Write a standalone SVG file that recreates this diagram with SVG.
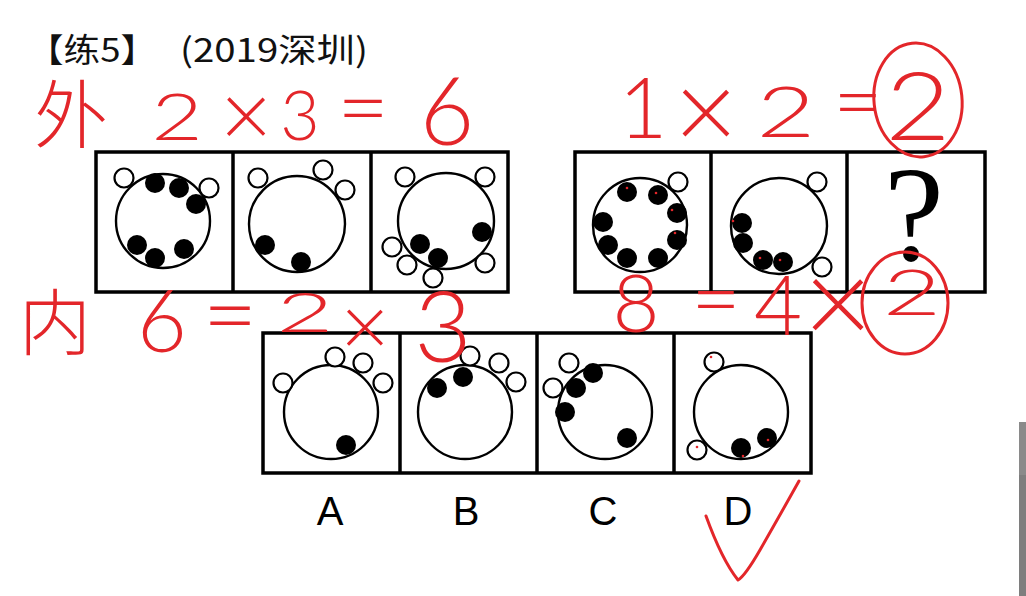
<svg xmlns="http://www.w3.org/2000/svg" width="1026" height="596" viewBox="0 0 1026 596">
<style>
.box{fill:#fff;stroke:#000;stroke-width:3.5}
.div{stroke:#000;stroke-width:3.5}
.big{fill:none;stroke:#000;stroke-width:2.4}
.o{fill:#fff;stroke:#000;stroke-width:2.2}
.f{fill:#000}
.rd{fill:#e3262a}
.title{font-family:"Noto Sans CJK SC","Noto Sans",sans-serif;font-size:33px;fill:#111}
.hw{fill:#e3262a;font-family:Lato,"Liberation Sans","Noto Sans CJK SC",sans-serif;font-weight:300;text-anchor:middle}
.cj{fill:#e3262a;font-family:"Noto Sans CJK SC",sans-serif;font-weight:300;text-anchor:middle}
.rs{fill:none;stroke:#e3262a;stroke-width:3;stroke-linecap:round;stroke-linejoin:round}
.lbl{font-family:"Liberation Sans",Arial,sans-serif;font-size:40px;fill:#000;text-anchor:middle}
</style>
<rect width="1026" height="596" fill="#fff"/>
<rect x="1019" y="422" width="7" height="174" fill="#7e7e7e"/>
<rect x="1019" y="422" width="7" height="53" fill="#8a8a8a"/>

<g id="title">
<text class="title" x="27" y="62" textLength="130" lengthAdjust="spacingAndGlyphs">【练5】</text>
<text class="title" x="180" y="62" textLength="188" lengthAdjust="spacingAndGlyphs">(2019深圳)</text>
</g>

<!-- top left row -->
<g id="row1">
<rect class="box" x="96" y="152" width="412" height="140"/>
<line class="div" x1="233" y1="152" x2="233" y2="292"/>
<line class="div" x1="371" y1="152" x2="371" y2="292"/>
</g>
<g id="p1">
<circle class="big" cx="163" cy="221" r="47"/>
<circle class="o" cx="124" cy="178" r="9.5"/>
<circle class="o" cx="209" cy="188" r="9.5"/>
<circle class="f" cx="155" cy="183" r="10"/>
<circle class="f" cx="179" cy="188" r="10"/>
<circle class="f" cx="196" cy="204" r="10"/>
<circle class="f" cx="137" cy="245" r="10"/>
<circle class="f" cx="155" cy="258" r="10"/>
<circle class="f" cx="184" cy="249" r="10"/>
</g>
<g id="p2">
<circle class="big" cx="297" cy="224" r="48"/>
<circle class="o" cx="258" cy="178" r="9.5"/>
<circle class="o" cx="323" cy="170" r="9.5"/>
<circle class="o" cx="345" cy="190" r="9.5"/>
<circle class="f" cx="265" cy="245" r="10"/>
<circle class="f" cx="301" cy="262" r="10"/>
</g>
<g id="p3">
<circle class="big" cx="446" cy="221" r="48"/>
<circle class="o" cx="405" cy="177" r="9.5"/>
<circle class="o" cx="485" cy="177" r="9.5"/>
<circle class="o" cx="392" cy="247" r="9.5"/>
<circle class="o" cx="407" cy="265" r="9.5"/>
<circle class="o" cx="433" cy="278" r="9.5"/>
<circle class="o" cx="485" cy="263" r="9.5"/>
<circle class="f" cx="420" cy="244" r="10"/>
<circle class="f" cx="438" cy="258" r="10"/>
<circle class="f" cx="482" cy="232" r="10"/>
</g>

<!-- top right row -->
<g id="row2">
<rect class="box" x="575" y="152" width="410" height="140"/>
<line class="div" x1="711" y1="152" x2="711" y2="292"/>
<line class="div" x1="847" y1="152" x2="847" y2="292"/>
</g>
<g id="p4">
<circle class="big" cx="640" cy="225" r="47"/>
<circle class="o" cx="678" cy="182" r="9.5"/>
<circle class="f" cx="627" cy="192" r="10"/>
<circle class="f" cx="658" cy="195" r="10"/>
<circle class="f" cx="677" cy="213" r="10"/>
<circle class="f" cx="677" cy="240" r="10"/>
<circle class="f" cx="658" cy="258" r="10"/>
<circle class="f" cx="627" cy="258" r="10"/>
<circle class="f" cx="608" cy="245" r="10"/>
<circle class="f" cx="603" cy="222" r="10"/>
<circle class="rd" cx="627" cy="188" r="1.3"/>
<circle class="rd" cx="656" cy="193" r="1.3"/>
<circle class="rd" cx="672" cy="210" r="1.3"/>
<circle class="rd" cx="675" cy="233" r="1.3"/>
</g>
<g id="p5">
<circle class="big" cx="779" cy="226" r="48"/>
<circle class="o" cx="817" cy="182" r="9.5"/>
<circle class="o" cx="822" cy="267" r="9.5"/>
<circle class="f" cx="742" cy="223" r="10"/>
<circle class="f" cx="743" cy="243" r="10"/>
<circle class="f" cx="763" cy="260" r="10"/>
<circle class="f" cx="783" cy="262" r="10"/>
<circle class="rd" cx="733" cy="221" r="1.3"/>
<circle class="rd" cx="760" cy="258" r="1.3"/>
<circle class="rd" cx="780" cy="260" r="1.3"/>
</g>
<g id="p6">
<text x="914" y="260" font-family="Liberation Serif,serif" font-size="135" text-anchor="middle" fill="#000">?</text>
</g>

<!-- options -->
<g id="row3">
<rect class="box" x="263" y="333" width="548" height="140"/>
<line class="div" x1="400" y1="333" x2="400" y2="473"/>
<line class="div" x1="537" y1="333" x2="537" y2="473"/>
<line class="div" x1="674" y1="333" x2="674" y2="473"/>
</g>
<g id="optA">
<circle class="big" cx="331" cy="412" r="47"/>
<circle class="o" cx="283" cy="383" r="9.5"/>
<circle class="o" cx="335" cy="357" r="9.5"/>
<circle class="o" cx="363" cy="363" r="9.5"/>
<circle class="o" cx="383" cy="383" r="9.5"/>
<circle class="f" cx="346" cy="445" r="10"/>
<text class="lbl" x="330" y="525">A</text>
</g>
<g id="optB">
<circle class="big" cx="465" cy="412" r="47"/>
<circle class="o" cx="470" cy="356" r="9.5"/>
<circle class="o" cx="499" cy="363" r="9.5"/>
<circle class="o" cx="516" cy="382" r="9.5"/>
<circle class="f" cx="437" cy="388" r="10"/>
<circle class="f" cx="463" cy="377" r="10"/>
<text class="lbl" x="466" y="525">B</text>
</g>
<g id="optC">
<circle class="big" cx="605" cy="412" r="47"/>
<circle class="o" cx="569" cy="363" r="9.5"/>
<circle class="o" cx="553" cy="388" r="9.5"/>
<circle class="f" cx="593" cy="373" r="10"/>
<circle class="f" cx="576" cy="388" r="10"/>
<circle class="f" cx="565" cy="412" r="10"/>
<circle class="f" cx="627" cy="438" r="10"/>
<text class="lbl" x="603" y="525">C</text>
</g>
<g id="optD">
<circle class="big" cx="741" cy="412" r="47"/>
<circle class="o" cx="714" cy="362" r="9.5"/>
<circle class="o" cx="697" cy="450" r="9.5"/>
<circle class="f" cx="741" cy="448" r="10"/>
<circle class="f" cx="767" cy="438" r="10"/>
<circle class="rd" cx="711" cy="357" r="1.3"/>
<circle class="rd" cx="697" cy="447" r="1.3"/>
<circle class="rd" cx="743" cy="456" r="1.3"/>
<circle class="rd" cx="768" cy="440" r="1.3"/>
<text class="lbl" x="738" y="525">D</text>
</g>

<!-- handwritten annotations -->
<g id="note-outer-left">
<text class="cj" x="71" y="142" font-size="74">外</text>
<text class="hw" transform="translate(177,140) scale(1.35,1)" font-size="66">2</text>
<text class="hw" x="246" y="147" font-size="90">×</text>
<text class="hw" x="300" y="140" font-size="68">3</text>
<text class="hw" x="363" y="139" font-size="90">=</text>
<text class="hw" x="447" y="145" font-size="94">6</text>
</g>
<g id="note-outer-right">
<text class="hw" x="643" y="138" font-size="84">1</text>
<text class="hw" x="706" y="150" font-size="110">×</text>
<text class="hw" transform="translate(786,137) scale(1.45,1)" font-size="70">2</text>
<text class="hw" x="858" y="132" font-size="86">=</text>
<text class="hw" transform="translate(918,140) scale(1.2,1)" font-size="94">2</text>
<ellipse class="rs" cx="918" cy="100" rx="44" ry="57" transform="rotate(-6 918 100)"/>
</g>
<g id="note-inner-left">
<text class="cj" x="55" y="349" font-size="72">内</text>
<text class="hw" x="162" y="352" font-size="86">6</text>
<text class="hw" x="230" y="348" font-size="95">=</text>
<text class="hw" transform="translate(305,332) scale(1.8,1)" font-size="55">2</text>
<text class="hw" x="365" y="356" font-size="85">×</text>
<text class="hw" x="443" y="362" font-size="99">3</text>
</g>
<g id="note-inner-right">
<text class="hw" x="636" y="332" font-size="81">8</text>
<text class="hw" x="716" y="329" font-size="86">=</text>
<text class="hw" x="778" y="335" font-size="83">4</text>
<text class="hw" x="838" y="345" font-size="120">×</text>
<text class="hw" transform="translate(912,315) scale(1.6,1)" font-size="63">2</text>
<ellipse class="rs" cx="905" cy="303" rx="43" ry="51"/>
</g>
<path id="check" class="rs" d="M706,516 Q722,560 738,580 Q745,576 760,550 Q780,515 799,481"/>
</svg>
